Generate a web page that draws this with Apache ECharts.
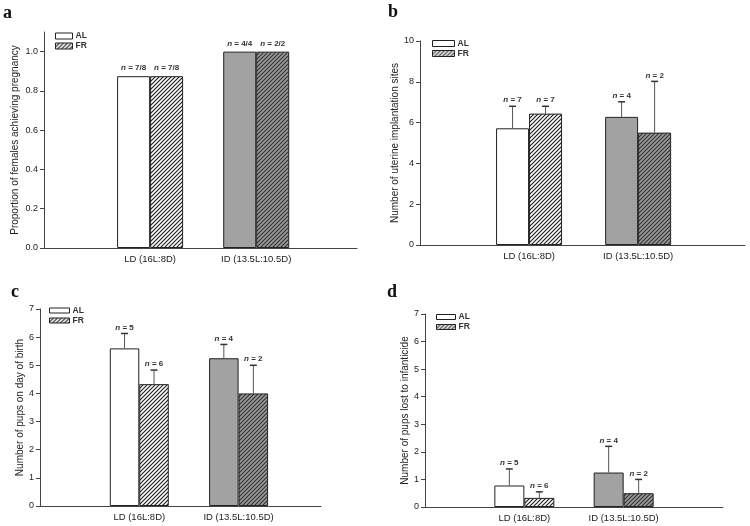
<!DOCTYPE html>
<html>
<head>
<meta charset="utf-8">
<script src="https://cdn.jsdelivr.net/npm/echarts@6/dist/echarts.min.js"></script>
<style>html,body{margin:0;padding:0;background:#fff}#c{width:750px;height:526px}</style>
</head>
<body>
<div id="c"></div>
<script>
// ---- data ----
const categories = ['LD (16L:8D)', 'ID (13.5L:10.5D)'];
const groupNames = ['AL', 'FR'];
// panel a: proportion of females achieving pregnancy
const aAL = [0.875, 1.0];
const aFR = [0.875, 1.0];
const aALn = ['7/8', '4/4'];
const aFRn = ['7/8', '2/2'];
const aTicks = [0, 0.2, 0.4, 0.6, 0.8, 1.0];
// panel b: number of uterine implantation sites (mean, SE)
const bAL = [5.72, 6.28];
const bALse = [1.08, 0.74];
const bFR = [6.44, 5.51];
const bFRse = [0.36, 2.51];
const bALn = ['7', '4'];
const bFRn = ['7', '2'];
const bTicks = [0, 2, 4, 6, 8, 10];
// panel c: number of pups on day of birth
const cAL = [5.6, 5.25];
const cALse = [0.53, 0.49];
const cFR = [4.33, 4.0];
const cFRse = [0.5, 1.0];
const cALn = ['5', '4'];
const cFRn = ['6', '2'];
const cTicks = [0, 1, 2, 3, 4, 5, 6, 7];
// panel d: number of pups lost to infanticide
const dAL = [0.78, 1.25];
const dALse = [0.6, 0.95];
const dFR = [0.33, 0.5];
const dFRse = [0.22, 0.5];
const dALn = ['5', '4'];
const dFRn = ['6', '2'];
const dTicks = [0, 1, 2, 3, 4, 5, 6, 7];
const panelLetters = ['a', 'b', 'c', 'd'];
const yTitles = ['Proportion of females achieving pregnancy', 'Number of uterine implantation sites',
  'Number of pups on day of birth', 'Number of pups lost to infanticide'];

// ---- styles ----
const FONT = '"Liberation Sans", Arial, sans-serif';
function hatch(bg, fg, s, lw) {
  const c = document.createElement('canvas');
  c.width = s; c.height = s;
  const g = c.getContext('2d');
  g.fillStyle = bg; g.fillRect(0, 0, s, s);
  g.strokeStyle = fg; g.lineWidth = lw;
  g.beginPath();
  for (let k = -1; k <= 1; k++) { g.moveTo(k * s - 1, s + 1); g.lineTo(k * s + s + 1, -1); }
  g.stroke();
  return c;
}
const hatchWhite = { image: hatch('#ffffff', '#222222', 4, 1.2), repeat: 'repeat' };
const hatchGray = { image: hatch('#9c9c9c', '#333333', 4, 1.2), repeat: 'repeat' };
const alColors = ['#ffffff', '#a2a2a2'];
const frColors = [hatchWhite, hatchGray];

const panels = [
  { grid: { left: 44, top: 32, width: 313, height: 216 }, xmax: 2.95, ymax: 1.1, ticks: aTicks, fmt: v => v.toFixed(1),
    AL: aAL, ALse: [0, 0], FR: aFR, FRse: [0, 0], ALn: aALn, FRn: aFRn, bw: 33,
    legend: { left: 55, top: 31, w: 17, h: 6 }, nameGap: 24, letter: [3, 4] },
  { grid: { left: 420, top: 41, width: 325, height: 204 }, xmax: 2.98, ymax: 10, ticks: bTicks, fmt: v => String(v),
    AL: bAL, ALse: bALse, FR: bFR, FRse: bFRse, ALn: bALn, FRn: bFRn, bw: 33,
    legend: { left: 432, top: 38.5, w: 22, h: 6 }, nameGap: 19, letter: [388, 3] },
  { grid: { left: 40, top: 309, width: 281, height: 197 }, xmax: 2.83, ymax: 7, ticks: cTicks, fmt: v => String(v),
    AL: cAL, ALse: cALse, FR: cFR, FRse: cFRse, ALn: cALn, FRn: cFRn, bw: 29.5,
    legend: { left: 49, top: 305.5, w: 20, h: 5 }, nameGap: 15, letter: [11, 283] },
  { grid: { left: 425, top: 314, width: 298, height: 193 }, xmax: 3.0, ymax: 7, ticks: dTicks, fmt: v => String(v),
    AL: dAL, ALse: dALse, FR: dFR, FRse: dFRse, ALn: dALn, FRn: dFRn, bw: 30,
    legend: { left: 436, top: 312, w: 19, h: 5 }, nameGap: 13, letter: [387, 283] }
];

function errRender(labels, bw) {
  return function (params, api) {
    const x = api.value(0), v = api.value(1), t = api.value(2), side = api.value(3);
    const p0 = api.coord([x, v]);
    const p1 = api.coord([x, t]);
    const cx = p0[0] + side * bw / 2;
    const children = [];
    const hasErr = t > v;
    if (hasErr) {
      children.push({ type: 'line', shape: { x1: cx, y1: p0[1], x2: cx, y2: p1[1] }, style: { stroke: '#555', lineWidth: 1 } });
      children.push({ type: 'line', shape: { x1: cx - 3.5, y1: p1[1], x2: cx + 3.5, y2: p1[1] }, style: { stroke: '#333', lineWidth: 1.5 } });
    }
    children.push({ type: 'text', style: {
      text: '{i|n} = ' + labels[params.dataIndex], x: cx, y: p1[1] - (hasErr ? 2 : 4),
      align: 'center', verticalAlign: 'bottom', fontSize: 8, fontWeight: 'bold', fontFamily: FONT, fill: '#333',
      rich: { i: { fontStyle: 'italic', fontWeight: 'bold', fontSize: 8, fontFamily: FONT, fill: '#333' } } } });
    return { type: 'group', children };
  };
}

const grid = [], xAxis = [], yAxis = [], series = [], legend = [], graphic = [];
panels.forEach((p, k) => {
  grid.push(Object.assign({ containLabel: false }, p.grid));
  xAxis.push({ type: 'value', gridIndex: k, min: 0, max: p.xmax, interval: 1,
    axisLine: { lineStyle: { color: '#444', width: 1 } }, axisTick: { show: false }, splitLine: { show: false },
    axisLabel: { formatter: v => (categories[Math.round(v) - 1] && Math.abs(v - Math.round(v)) < 1e-6) ? categories[Math.round(v) - 1] : '',
      fontSize: 9.5, fontFamily: FONT, color: '#222', margin: 6, showMinLabel: false, showMaxLabel: false } });
  yAxis.push({ type: 'value', gridIndex: k, min: 0, max: p.ymax,
    name: yTitles[k], nameLocation: 'middle', nameGap: p.nameGap,
    nameTextStyle: { fontSize: 10, fontFamily: FONT, color: '#222' },
    axisLine: { show: true, lineStyle: { color: '#444', width: 1 } },
    axisTick: { show: true, inside: false, length: 4, lineStyle: { color: '#444' }, customValues: p.ticks },
    axisLabel: { customValues: p.ticks, formatter: p.fmt, fontSize: 9, fontFamily: FONT, color: '#222', margin: 6 },
    splitLine: { show: false } });
  series.push({ type: 'bar', name: 'AL', xAxisIndex: k, yAxisIndex: k, barWidth: p.bw, barGap: '0%',
    itemStyle: { color: '#fff', borderColor: '#222', borderWidth: 1 },
    data: p.AL.map((v, i) => ({ value: [i + 1, v], itemStyle: { color: alColors[i] } })), silent: true, z: 2 });
  series.push({ type: 'bar', name: 'FR', xAxisIndex: k, yAxisIndex: k, barWidth: p.bw, barGap: '0%',
    itemStyle: { color: hatchWhite, borderColor: '#222', borderWidth: 1 },
    data: p.FR.map((v, i) => ({ value: [i + 1, v], itemStyle: { color: frColors[i] } })), silent: true, z: 2 });
  series.push({ type: 'custom', xAxisIndex: k, yAxisIndex: k, renderItem: errRender(p.ALn, p.bw), z: 3, silent: true,
    data: p.AL.map((v, i) => [i + 1, v, v + p.ALse[i], -1]) });
  series.push({ type: 'custom', xAxisIndex: k, yAxisIndex: k, renderItem: errRender(p.FRn, p.bw), z: 3, silent: true,
    data: p.FR.map((v, i) => [i + 1, v, v + p.FRse[i], 1]) });
  legend.push({ left: p.legend.left, top: p.legend.top, orient: 'vertical', padding: 0, itemGap: 0,
    itemWidth: p.legend.w, itemHeight: p.legend.h, selectedMode: false, icon: 'rect',
    textStyle: { fontSize: 8.5, fontWeight: 'bold', fontFamily: FONT, color: '#333', lineHeight: 10, padding: [0, 0, 0, -2] },
    itemStyle: { borderColor: '#222', borderWidth: 1 },
    data: [{ name: groupNames[0], itemStyle: { color: '#ffffff' } }, { name: groupNames[1], itemStyle: { color: hatchWhite } }] });
  graphic.push({ type: 'text', left: p.letter[0], top: p.letter[1],
    style: { text: panelLetters[k], font: 'bold 18px "Liberation Serif", "Times New Roman", serif', fill: '#111' } });
});

const chart = echarts.init(document.getElementById('c'), null, { renderer: 'canvas' });
chart.setOption({ animation: false, backgroundColor: '#fff', grid, xAxis, yAxis, series, legend, graphic });
</script>
</body>
</html>
